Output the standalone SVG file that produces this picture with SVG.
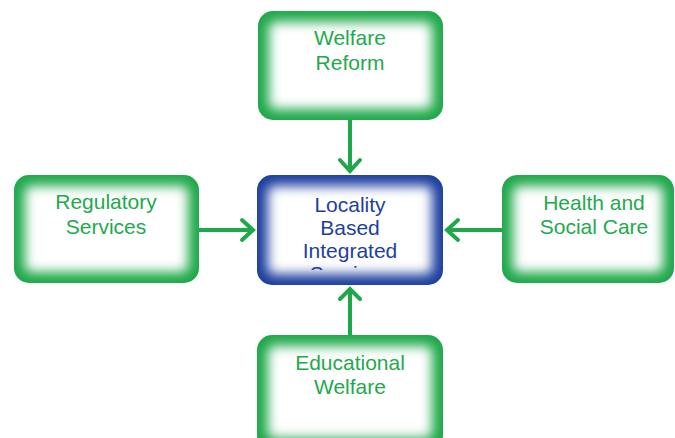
<svg xmlns="http://www.w3.org/2000/svg" width="675" height="438" viewBox="0 0 675 438">
<style>
.gtxt{font-family:"Liberation Sans",Arial,sans-serif;font-size:21px;fill:#22aa4c;text-anchor:middle}
.btxt{font-family:"Liberation Sans",Arial,sans-serif;font-size:21px;fill:#1e3f9e;text-anchor:middle}
.con{stroke:#1fa84a;stroke-width:4;fill:none}
.head{stroke:#1fa84a;stroke-width:4;fill:none;stroke-linecap:round;stroke-linejoin:miter}
.gbox{fill:#1fa84a}
.bbox{fill:#1e3f9e}
.inner{fill:#ffffff;filter:url(#glow)}
</style>
<defs>
<filter id="glow" x="-20%" y="-20%" width="140%" height="140%">
<feGaussianBlur stdDeviation="6"/>
</filter>
<clipPath id="cclip"><rect x="262" y="180" width="176" height="90"/></clipPath>
</defs>
<g id="welfare-reform">
<rect class="gbox" x="258" y="11" width="185" height="109" rx="15"/>
<rect class="inner" x="269" y="22" width="163" height="87" rx="6"/>
<text class="gtxt" x="350" y="45">Welfare</text>
<text class="gtxt" x="350" y="70">Reform</text>
</g>
<g id="locality">
<rect class="bbox" x="257" y="175" width="186" height="110" rx="15"/>
<rect class="inner" x="268" y="186" width="164" height="88" rx="6"/>
<g clip-path="url(#cclip)">
<text class="btxt" x="350" y="212">Locality</text>
<text class="btxt" x="350" y="235">Based</text>
<text class="btxt" x="350" y="258">Integrated</text>
<text class="btxt" x="350" y="281">Services</text>
</g>
</g>
<g id="regulatory">
<rect class="gbox" x="14" y="175" width="185" height="108" rx="15"/>
<rect class="inner" x="25" y="186" width="163" height="86" rx="6"/>
<text class="gtxt" x="106" y="209">Regulatory</text>
<text class="gtxt" x="106" y="234">Services</text>
</g>
<g id="health">
<rect class="gbox" x="502" y="175" width="172" height="108" rx="15"/>
<rect class="inner" x="513" y="186" width="150" height="86" rx="6"/>
<text class="gtxt" x="594" y="210">Health and</text>
<text class="gtxt" x="594" y="234">Social Care</text>
</g>
<g id="educational">
<rect class="gbox" x="257" y="335" width="186" height="115" rx="15"/>
<rect class="inner" x="268" y="346" width="164" height="92" rx="6"/>
<text class="gtxt" x="350" y="370">Educational</text>
<text class="gtxt" x="350" y="394">Welfare</text>
</g>
<g id="connectors">
<line class="con" x1="350" y1="120" x2="350" y2="172"/>
<polyline class="head" points="340,160 350,171 360,160"/>
<line class="con" x1="199" y1="230" x2="254" y2="230"/>
<polyline class="head" points="242,220 253,230 242,240"/>
<line class="con" x1="502" y1="230" x2="446" y2="230"/>
<polyline class="head" points="458,220 447,230 458,240"/>
<line class="con" x1="350" y1="335" x2="350" y2="288"/>
<polyline class="head" points="340,299 350,289 360,299"/>
</g>
</svg>
